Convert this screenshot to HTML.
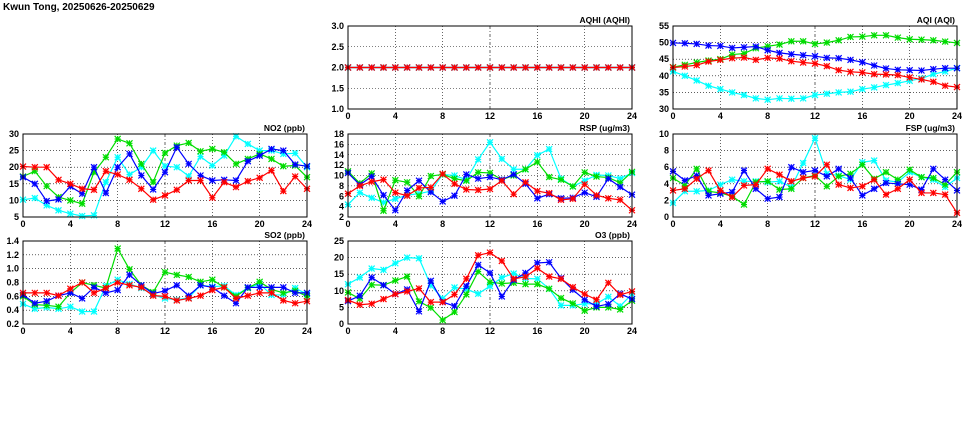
<!DOCTYPE html>
<html><head><meta charset="utf-8"><style>
html,body{margin:0;padding:0;background:#fff;}
svg{display:block;font-family:"Liberation Sans",sans-serif;}
</style></head><body>
<svg id="chart" width="975" height="447" viewBox="0 0 975 447">
<text x="3" y="10" font-size="10" font-weight="bold">Kwun Tong, 20250626-20250629</text>
</svg>
<script>
const hours = [0,1,2,3,4,5,6,7,8,9,10,11,12,13,14,15,16,17,18,19,20,21,22,23,24];
const xTicks = [0,4,8,12,16,20,24];
const colors = ['#ff0000','#00dd00','#0000ff','#00ffff'];

const aqhiRed = hours.map(()=>2.0);
const aqhiGreen = hours.map(()=>2.0);
const aqhiBlue = hours.map(()=>2.0);
const aqhiCyan = hours.map(()=>2.0);
const aqhiTicks = [1.0,1.5,2.0,2.5,3.0];

const aqiRed = [42.5,42.8,43.2,44.3,44.8,45.3,45.5,44.8,45.4,45.2,44.4,44,43.7,42.9,41.7,41.2,41,40.5,40.4,40.2,39.5,38.9,38.2,37,36.6];
const aqiGreen = [42.6,43.3,44,44.6,45,46.4,46.7,48.3,48.9,49.4,50.4,50.4,49.6,50,50.7,51.7,51.8,52.2,52.2,51.5,51,50.9,50.7,50.3,49.9];
const aqiBlue = [49.9,49.8,49.6,49.1,49,48.4,48.6,48.8,47.7,46.9,46.5,46.2,45.9,45.4,45.3,44.8,44.1,43.1,42.2,41.8,41.7,41.6,42,42.3,42.3];
const aqiCyan = [41.3,40,38.6,37,36,35,34.2,33.2,32.8,33.2,33.1,33.2,34.2,34.6,35,35.2,36,36.5,37.2,37.8,38.5,39.2,40.5,41.3,42.3];
const aqiTicks = [30,35,40,45,50,55];

const no2Red = [20.2,20,20,16.2,15,13.5,13.2,18.8,17.8,16.2,13.5,10.2,11.5,13.2,16,16,10.8,15.5,14,15.8,16.8,19,12.8,17.2,13.5];
const no2Green = [17.2,18.8,14.3,11,10,9,18.5,23,28.5,27.2,21,15.5,24.3,26.5,27.3,24.8,25.5,24.5,21,22.5,24,22.5,20.3,20.5,17];
const no2Blue = [17,15,9.8,10.3,14.2,12,20,12.2,20,24,17.5,13.3,18.5,26,21,17.5,16,16.2,16,21.8,23.5,25.5,25,20.8,20.3];
const no2Cyan = [10.2,10.7,8.5,7,6,5.3,5.5,15.5,23,17.8,20,25,20.3,20,17.3,23.2,20.5,23.5,29.3,27,25,25,24,24.2,20];
const no2Ticks = [5,10,15,20,25,30];

const rspRed = [6.5,8,8.8,9.2,6.7,6.1,7.6,7.7,10.3,8.4,7.3,7.2,7.4,9,6.4,8.7,7,6.6,5.3,5.5,8.3,6.2,5.6,5.3,3.3];
const rspGreen = [10.8,8.5,10.4,3.2,9.1,8.7,6,9.9,10.2,9.4,9,10.6,10.5,9.2,10,11.2,12.6,9.7,9.2,7.9,10.6,9.8,9.6,8.6,10.7];
const rspBlue = [10.5,8.2,9.8,6.2,3.3,7.1,9,6.8,5,6.1,10.2,9.4,9.7,9.2,10.2,8.4,5.6,6.4,5.6,5.7,6.7,5.9,9.4,7.8,6.3];
const rspCyan = [4.4,6.7,5.7,4.8,5.5,6.2,6.5,7,10.2,10,9.2,13.1,16.4,13.2,11.2,11.2,13.9,15.1,9.4,7.9,9,10.1,10,9.4,10.5];
const rspTicks = [2,4,6,8,10,12,14,16,18];

const fspRed = [3.2,3.4,4.6,5.6,3.2,2.4,3.8,3.9,5.8,5.1,4.3,4.7,4.9,6.3,3.9,3.5,3.7,4.5,2.7,3.4,4.5,2.9,2.9,2.7,0.5];
const fspGreen = [4.7,3.8,5.8,3.1,2.9,2.5,1.5,4.2,4.3,3.3,3.4,4.7,5,3.7,4.9,5.2,6.3,4.6,5.4,4.5,5.7,4.8,4.7,3.9,5.4];
const fspBlue = [5.5,4.4,5,2.6,2.8,3,5.6,3.4,2.2,2.4,6,5.4,5.6,4.9,5.8,4.7,2.6,3.4,4.1,4,3.9,3.3,5.8,4.5,3.2];
const fspCyan = [1.7,3.1,3.1,3.2,3.9,4.5,4.3,4.3,4.2,4.3,3.6,6.5,9.5,5.2,5,4.5,6.6,6.8,4.4,4.2,5.4,4.8,4.5,3.6,4.7];
const fspTicks = [0,2,4,6,8,10];

const so2Red = [.65,.65,.65,.61,.71,.8,.65,.72,.8,.76,.73,.61,.6,.54,.57,.61,.69,.73,.57,.61,.65,.65,.54,.5,.53];
const so2Green = [.6,.48,.47,.45,.65,.8,.76,.72,1.29,.99,.76,.66,.95,.91,.88,.81,.84,.73,.6,.72,.81,.7,.65,.68,.6];
const so2Blue = [.62,.5,.53,.61,.65,.57,.73,.65,.69,.91,.76,.64,.68,.76,.61,.76,.73,.61,.5,.73,.73,.73,.73,.65,.65];
const so2Cyan = [.49,.42,.44,.42,.45,.38,.38,.75,.84,.78,.72,.62,.57,.55,.58,.76,.74,.75,.62,.72,.78,.62,.62,.72,.63];
const so2Ticks = [0.2,0.4,0.6,0.8,1.0,1.2,1.4];

const o3Red = [7.2,5.8,6.1,7.5,9,9.8,10.7,6.6,6.6,8.9,13.6,20.7,21.5,19,13.6,14.2,16.8,14.3,13.6,11.1,9,7.3,12.4,8.8,9.8];
const o3Green = [9.5,7.6,11.8,11.7,13.1,14.3,6.8,4.9,1.2,3.6,8.9,15.8,12.6,12.2,12.4,12,12,10.6,7.8,6.2,4,5,5,4.4,7];
const o3Blue = [6.9,8.5,14,11.7,9,10.4,3.8,13,6.6,5.4,11.4,17.8,15.4,8.3,13.3,15.4,18.4,18.6,13.8,10.3,7.3,5.3,6,9.1,7.5];
const o3Cyan = [12,14,16.7,16.3,18.3,20,19.8,11.6,7.7,11,10.5,9.1,11.4,14,15.2,13.7,13.6,10.6,5.6,5.6,6.1,6.1,8.2,5.4,9];
const o3Ticks = [0,5,10,15,20,25];

const NS='http://www.w3.org/2000/svg';
const svg=document.getElementById('chart');
function mk(tag,attrs,parent){const e=document.createElementNS(NS,tag);for(const k in attrs)e.setAttribute(k,attrs[k]);(parent||svg).appendChild(e);return e;}

function panel(name,title,L,T,ticks,dec,series){
  const W=284,H=83,R=L+W,B=T+H;
  const g=mk('g',{});
  
  
  const ymin=ticks[0],ymax=ticks[ticks.length-1];
  const xs=v=>L+v/24*W, ys=v=>B-(v-ymin)/(ymax-ymin)*H;
  // grid
  ticks.forEach(t=>{
    if(t>ymin&&t<ymax){const l=mk('line',{x1:L,x2:R,y1:ys(t),y2:ys(t),stroke:'#000','stroke-width':0.6,'stroke-dasharray':'1,2'},g);
      }
    const tx=mk('text',{x:L-4,y:ys(t)+3,'font-size':9,'font-weight':'bold','text-anchor':'end'},g);
    tx.textContent=t.toFixed(dec);
    
    
  });
  xTicks.forEach(t=>{
    if(t>0&&t<24){const l=mk('line',{x1:xs(t),x2:xs(t),y1:T,y2:B,stroke:'#000','stroke-width':0.6,'stroke-dasharray':t==12?'3,2,1,2':'1,2'},g);
      }
    const tx=mk('text',{x:xs(t),y:B+10,'font-size':9,'font-weight':'bold','text-anchor':'middle'},g);
    tx.textContent=t;
    
    
  });
  const tt=mk('text',{x:R-2,y:T-3,'font-size':8.5,'font-weight':'bold','text-anchor':'end'},g);
  tt.textContent=title;
  
  
  const sn=['red','green','blue','cyan'];
  const order=[3,1,2,0];
  order.forEach(i=>{
    const vals=series[i],c=colors[i];
    const sg=mk('g',{},g);
    
    
    const pl=mk('polyline',{points:vals.map((v,j)=>xs(hours[j])+','+ys(v)).join(' '),fill:'none',stroke:c,'stroke-width':1.2},sg);
    
    
    vals.forEach((v,j)=>{
      const x=xs(hours[j]),y=ys(v),s=3;
      const m=mk('path',{d:`M${x-s},${y-s}L${x+s},${y+s}M${x-s},${y+s}L${x+s},${y-s}M${x-s},${y}L${x+s},${y}M${x},${y-s}L${x},${y+s}`,stroke:c,'stroke-width':1.2},sg);
      
      
    });
  });
  const fr=mk('rect',{x:L,y:T,width:W,height:H,fill:'none',stroke:'#000','stroke-width':1},g);
  
  
}
panel('aqhi','AQHI (AQHI)',348,26,aqhiTicks,1,[aqhiRed,aqhiGreen,aqhiBlue,aqhiCyan]);
panel('aqi','AQI (AQI)',673,26,aqiTicks,0,[aqiRed,aqiGreen,aqiBlue,aqiCyan]);
panel('no2','NO2 (ppb)',23,134,no2Ticks,0,[no2Red,no2Green,no2Blue,no2Cyan]);
panel('rsp','RSP (ug/m3)',348,134,rspTicks,0,[rspRed,rspGreen,rspBlue,rspCyan]);
panel('fsp','FSP (ug/m3)',673,134,fspTicks,0,[fspRed,fspGreen,fspBlue,fspCyan]);
panel('so2','SO2 (ppb)',23,241,so2Ticks,1,[so2Red,so2Green,so2Blue,so2Cyan]);
panel('o3','O3 (ppb)',348,241,o3Ticks,0,[o3Red,o3Green,o3Blue,o3Cyan]);
// AQHI: red drawn on top
</script>
</body></html>
